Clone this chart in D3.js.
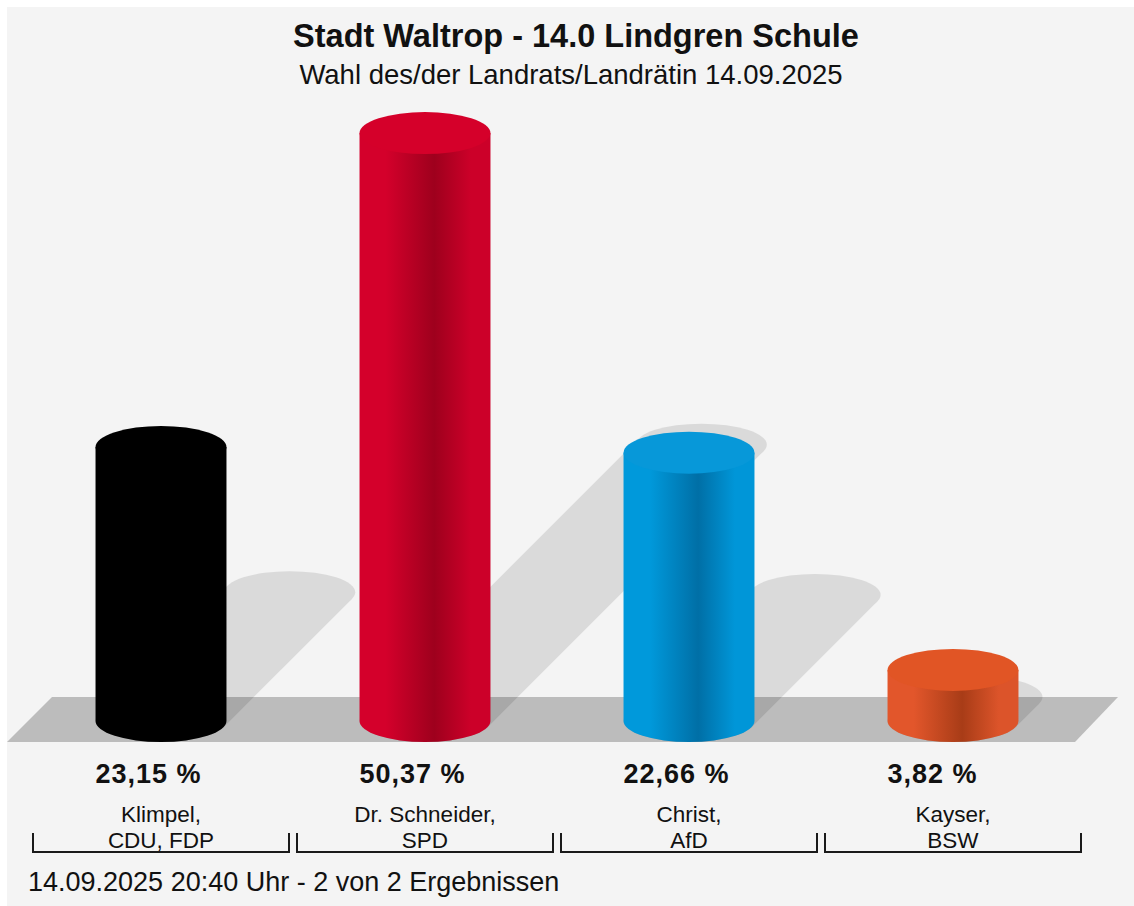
<!DOCTYPE html>
<html>
<head>
<meta charset="utf-8">
<script src="https://cdn.jsdelivr.net/npm/d3@7"></script>
<style>
  html, body { margin: 0; padding: 0; background: #ffffff; }
  svg { display: block; }
  text { font-family: "Liberation Sans", Arial, Helvetica, sans-serif; fill: #111; }
</style>
</head>
<body>
<svg id="chart" width="1134" height="906"></svg>
<script>
// ---- data ----
const names   = ["Klimpel,", "Dr. Schneider,", "Christ,", "Kayser,"];
const parties = ["CDU, FDP", "SPD", "AfD", "BSW"];
const values  = [23.15, 50.37, 22.66, 3.82];
const sideColors = [
  ["#000000", "#000000", "#000000"],
  ["#d4002b", "#9e001d", "#cc0029"],
  ["#0099db", "#006fa6", "#0096d8"],
  ["#e2562b", "#a83c17", "#dc542a"]
];
const topColors = ["#000000", "#d5002a", "#0798d9", "#e15525"];
const title = "Stadt Waltrop - 14.0 Lindgren Schule";
const subtitle = "Wahl des/der Landrats/Landrätin 14.09.2025";
const footer = "14.09.2025 20:40 Uhr - 2 von 2 Ergebnissen";

// ---- setup ----
const svg = d3.select("#chart");
const W = 1134, H = 906;

svg.append("rect").attr("x", 7).attr("y", 7).attr("width", W - 7).attr("height", H - 7)
  .attr("fill", "#f4f4f4");

const x = d3.scaleBand().domain(d3.range(values.length)).range([29, 1085]).padding(0);
const y = d3.scaleLinear().domain([0, 60]).range([714, 22]);
const rx = x.bandwidth() * 0.248;
const ry = 21;
const baseY = y(0) + 7;
const k = 0.47;

const defs = svg.append("defs");
sideColors.forEach((c, i) => {
  const g = defs.append("linearGradient").attr("id", "grad" + i)
    .attr("x1", "0%").attr("x2", "100%").attr("y1", "0%").attr("y2", "0%");
  g.append("stop").attr("offset", "0%").attr("stop-color", c[0]);
  g.append("stop").attr("offset", "20%").attr("stop-color", c[0]);
  g.append("stop").attr("offset", "57%").attr("stop-color", c[1]);
  g.append("stop").attr("offset", "85%").attr("stop-color", c[2]);
  g.append("stop").attr("offset", "100%").attr("stop-color", c[2]);
});

// ---- title ----
svg.append("text").attr("x", 576).attr("y", 47).attr("text-anchor", "middle")
  .attr("font-size", 32.5).attr("font-weight", "bold").text(title);
svg.append("text").attr("x", 571).attr("y", 84).attr("text-anchor", "middle")
  .attr("font-size", 27.5).text(subtitle);

// ---- floor ----
const fl = x.range();
svg.append("path")
  .attr("d", `M${fl[0] - 22},${baseY + 21} L${fl[0] + 23},${baseY - 24} L${fl[1] + 33},${baseY - 24} L${fl[1] - 10},${baseY + 21} Z`)
  .attr("fill", "#bcbcbc");

// ---- shadows ----
const shadowG = svg.append("g").attr("opacity", 0.1);
const t0 = Math.atan(ry / rx);
const px = rx * Math.cos(t0), py = ry * Math.sin(t0);
values.forEach((v, i) => {
  const cx = x(i) + x.bandwidth() / 2;
  const h = baseY - y(v);
  const sx = cx + k * h, sy = baseY - k * h;
  shadowG.append("ellipse").attr("cx", cx).attr("cy", baseY).attr("rx", rx).attr("ry", ry).attr("fill", "#000");
  shadowG.append("ellipse").attr("cx", sx).attr("cy", sy).attr("rx", rx).attr("ry", ry).attr("fill", "#000");
  shadowG.append("path")
    .attr("d", `M${cx + px},${baseY + py} L${cx - px},${baseY - py} L${sx - px},${sy - py} L${sx + px},${sy + py} Z`)
    .attr("fill", "#000");
});

// ---- cylinders ----
values.forEach((v, i) => {
  const cx = x(i) + x.bandwidth() / 2;
  const yt = y(v);
  svg.append("path")
    .attr("d", `M${cx - rx},${yt} L${cx - rx},${baseY} A${rx},${ry} 0 0 0 ${cx + rx},${baseY} L${cx + rx},${yt} Z`)
    .attr("fill", `url(#grad${i})`);
  svg.append("ellipse").attr("cx", cx).attr("cy", yt).attr("rx", rx).attr("ry", ry)
    .attr("fill", topColors[i]);
});

// ---- labels ----
const fmt = v => d3.format(".2f")(v).replace(".", ",") + " %";
values.forEach((v, i) => {
  const cx = x(i) + x.bandwidth() / 2;
  svg.append("text").attr("x", cx - rx).attr("y", 783)
    .attr("font-size", 27).attr("font-weight", "bold").attr("letter-spacing", 1)
    .text(fmt(v));
  svg.append("text").attr("x", cx).attr("y", 822).attr("text-anchor", "middle")
    .attr("font-size", 22.5).text(names[i]);
  svg.append("text").attr("x", cx).attr("y", 848).attr("text-anchor", "middle")
    .attr("font-size", 22.5).text(parties[i]);
  const x0 = x(i) + 4, x1 = x(i) + x.bandwidth() - 4;
  svg.append("path")
    .attr("d", `M${x0},833 L${x0},852 L${x1},852 L${x1},833`)
    .attr("fill", "none").attr("stroke", "#1a1a1a").attr("stroke-width", 2);
});

// ---- footer ----
svg.append("text").attr("x", 28).attr("y", 891).attr("font-size", 27).text(footer);
</script>
</body>
</html>
